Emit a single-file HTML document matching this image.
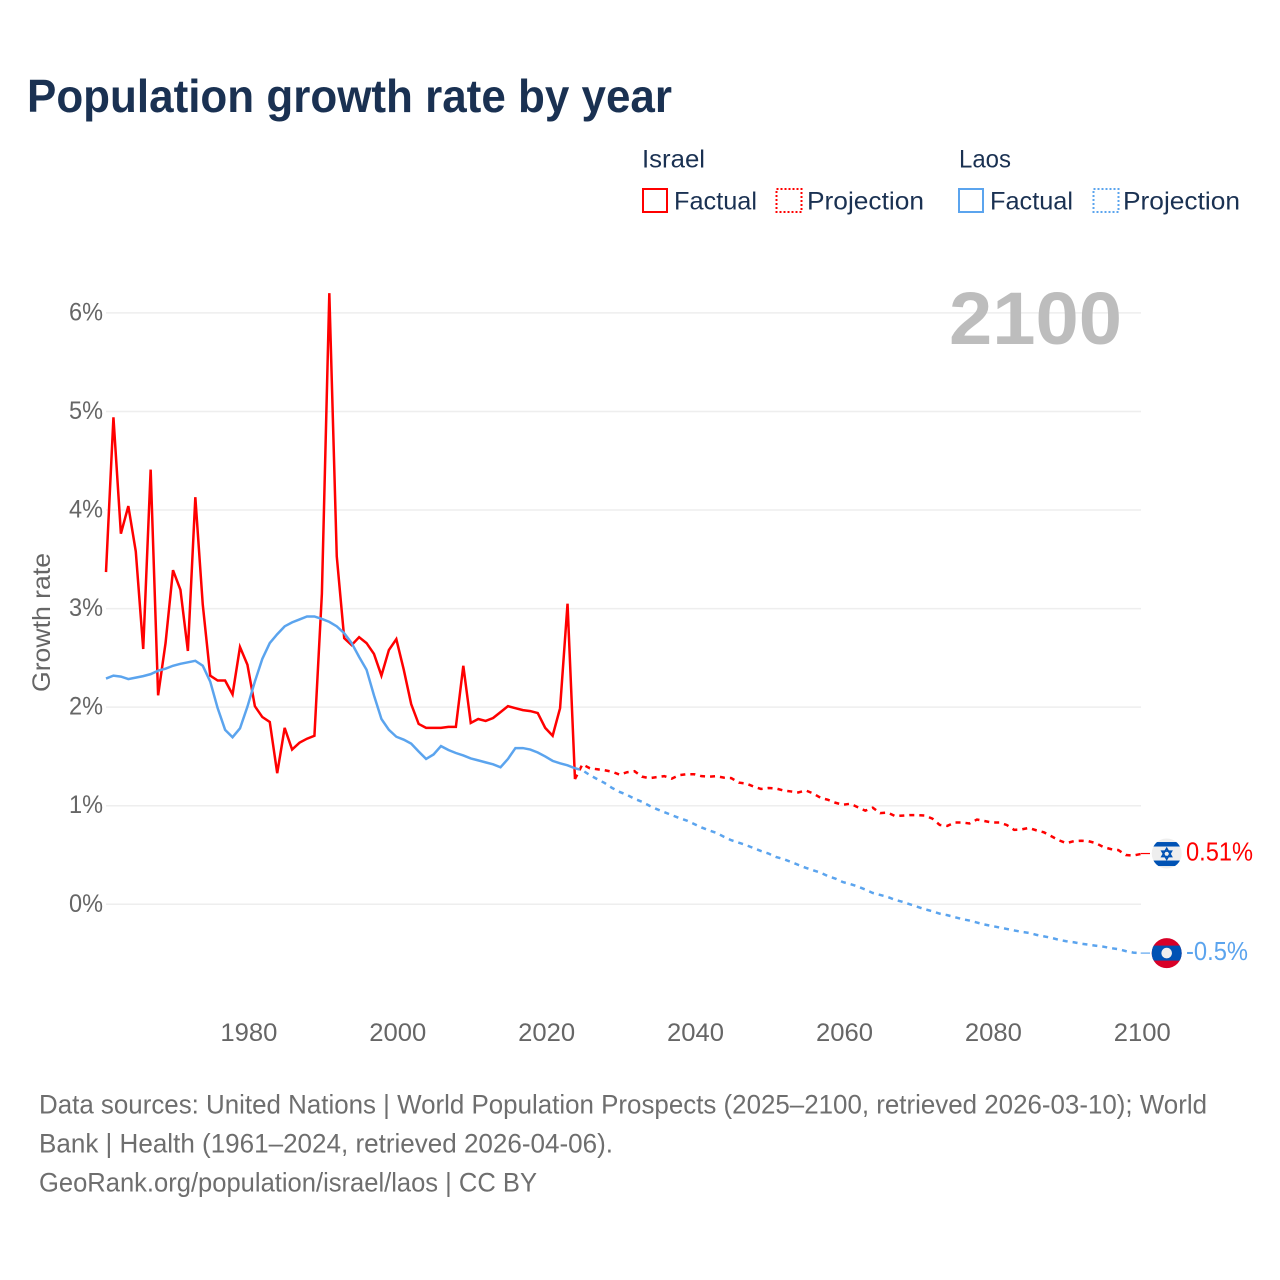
<!DOCTYPE html>
<html lang="en">
<head>
<meta charset="utf-8">
<title>Population growth rate by year</title>
<style>
html,body{margin:0;padding:0;background:#fff;width:1280px;height:1280px;overflow:hidden}
svg{display:block}
text{font-family:"Liberation Sans",sans-serif}
</style>
</head>
<body>
<svg id="chart" xmlns="http://www.w3.org/2000/svg" width="1280" height="1280" viewBox="0 0 1280 1280">
  <rect x="0" y="0" width="1280" height="1280" fill="#fff"/>
  <text x="27" y="112" font-size="46" font-weight="700" fill="#1a3152" textLength="645" lengthAdjust="spacingAndGlyphs">Population growth rate by year</text>

  <g font-size="25" fill="#1a3152">
    <text x="642" y="167.5" textLength="63" lengthAdjust="spacingAndGlyphs">Israel</text>
    <text x="959" y="167.5" textLength="52" lengthAdjust="spacingAndGlyphs">Laos</text>
    <g>
      <rect x="643" y="189" width="24" height="23" fill="none" stroke="#ff0000" stroke-width="2"/>
      <text x="674" y="209.5" textLength="83" lengthAdjust="spacingAndGlyphs">Factual</text>
    </g>
    <g>
      <rect x="776.5" y="189" width="25" height="23" fill="none" stroke="#ff0000" stroke-width="2" stroke-dasharray="2 2"/>
      <text x="807" y="209.5" textLength="117" lengthAdjust="spacingAndGlyphs">Projection</text>
    </g>
    <g>
      <rect x="959" y="189" width="24" height="23" fill="none" stroke="#5ba4ee" stroke-width="2"/>
      <text x="990" y="209.5" textLength="83" lengthAdjust="spacingAndGlyphs">Factual</text>
    </g>
    <g>
      <rect x="1093.5" y="189" width="25" height="23" fill="none" stroke="#5ba4ee" stroke-width="2" stroke-dasharray="2 2"/>
      <text x="1123" y="209.5" textLength="117" lengthAdjust="spacingAndGlyphs">Projection</text>
    </g>
  </g>

  <g id="grid"></g>
  <text x="949" y="344" font-size="74" font-weight="700" fill="#bdbdbd" textLength="173" lengthAdjust="spacingAndGlyphs">2100</text>
  <g id="yticks" font-size="25" fill="#666"></g>
  <g id="xticks" font-size="25" fill="#666"></g>
  <text transform="translate(50 692) rotate(-90)" x="0" y="0" font-size="25" fill="#666" textLength="139" lengthAdjust="spacingAndGlyphs">Growth rate</text>
  <g id="series"></g>

  <g id="flag-israel"></g>
  <g id="flag-laos"></g>

  <g font-size="26.5" fill="#6e6e6e">
    <text x="39" y="1113.5" textLength="1168" lengthAdjust="spacingAndGlyphs">Data sources: United Nations | World Population Prospects (2025–2100, retrieved 2026-03-10); World</text>
    <text x="39" y="1152.5" textLength="574" lengthAdjust="spacingAndGlyphs">Bank | Health (1961–2024, retrieved 2026-04-06).</text>
    <text x="39" y="1191.5" textLength="498" lengthAdjust="spacingAndGlyphs">GeoRank.org/population/israel/laos | CC BY</text>
  </g>
</svg>

<script>
const yTickValues = [0, 1, 2, 3, 4, 5, 6];
const yTickLabels = ["0%", "1%", "2%", "3%", "4%", "5%", "6%"];
const xTickValues = [1980, 2000, 2020, 2040, 2060, 2080, 2100];
const xTickLabels = ["1980", "2000", "2020", "2040", "2060", "2080", "2100"];
const factualStartYear = 1961;
const projectionStartYear = 2024;
const israelEndLabel = "0.51%";
const laosEndLabel = "-0.5%";

const israelFactual = [3.37,4.94,3.76,4.04,3.58,2.59,4.41,2.12,2.65,3.39,3.19,2.57,4.13,3.04,2.32,2.27,2.27,2.13,2.61,2.43,2.01,1.90,1.85,1.33,1.79,1.57,1.64,1.68,1.71,3.15,6.20,3.53,2.70,2.63,2.71,2.65,2.54,2.32,2.58,2.69,2.38,2.03,1.83,1.79,1.79,1.79,1.80,1.80,2.42,1.84,1.88,1.86,1.89,1.95,2.01,1.99,1.97,1.96,1.94,1.79,1.71,1.99,3.05,1.27];
const israelProjection = [1.27,1.42,1.38,1.37,1.36,1.345,1.315,1.34,1.35,1.295,1.28,1.29,1.30,1.275,1.31,1.32,1.32,1.30,1.295,1.30,1.285,1.28,1.235,1.225,1.195,1.17,1.18,1.175,1.155,1.145,1.135,1.155,1.125,1.08,1.06,1.03,1.01,1.02,0.985,0.95,0.98,0.925,0.93,0.895,0.90,0.905,0.905,0.90,0.87,0.805,0.795,0.83,0.83,0.82,0.86,0.845,0.83,0.83,0.805,0.755,0.76,0.775,0.75,0.73,0.69,0.65,0.62,0.64,0.645,0.64,0.62,0.58,0.56,0.55,0.50,0.495,0.51];
const laosFactual = [2.29,2.32,2.31,2.285,2.30,2.315,2.335,2.37,2.39,2.42,2.44,2.455,2.47,2.42,2.26,1.99,1.77,1.695,1.785,2.005,2.26,2.49,2.65,2.74,2.82,2.86,2.89,2.92,2.92,2.895,2.865,2.82,2.75,2.65,2.51,2.38,2.12,1.88,1.77,1.70,1.67,1.63,1.55,1.475,1.52,1.605,1.565,1.535,1.51,1.48,1.46,1.44,1.42,1.39,1.475,1.585,1.585,1.57,1.54,1.50,1.455,1.43,1.41,1.38];
const laosProjection = [1.38,1.36,1.31,1.27,1.23,1.18,1.14,1.11,1.07,1.04,1.00,0.965,0.935,0.905,0.875,0.85,0.815,0.78,0.75,0.725,0.685,0.65,0.625,0.60,0.57,0.54,0.515,0.48,0.46,0.43,0.40,0.37,0.345,0.32,0.285,0.26,0.225,0.205,0.18,0.15,0.115,0.095,0.075,0.045,0.025,0,-0.025,-0.05,-0.07,-0.095,-0.11,-0.13,-0.15,-0.165,-0.185,-0.205,-0.22,-0.235,-0.25,-0.265,-0.28,-0.29,-0.31,-0.325,-0.34,-0.36,-0.375,-0.385,-0.40,-0.41,-0.42,-0.43,-0.445,-0.455,-0.475,-0.49,-0.495];

const NS = "http://www.w3.org/2000/svg";
const RED = "#ff0000";
const BLUE = "#5ba4ee";
const xScale = function (year) { return 106 + (year - 1961) * 7.444; };
const yScale = function (value) { return 904.3 - value * 98.57; };

function make(tag, parent, attrs) {
  const el = document.createElementNS(NS, tag);
  Object.keys(attrs).forEach(function (k) { el.setAttribute(k, attrs[k]); });
  parent.appendChild(el);
  return el;
}
function linePath(values, startYear) {
  return values.map(function (v, i) {
    return (i ? "L" : "M") + xScale(startYear + i).toFixed(2) + " " + yScale(v).toFixed(2);
  }).join("");
}

const grid = document.getElementById("grid");
const yticks = document.getElementById("yticks");
const xticks = document.getElementById("xticks");
const series = document.getElementById("series");

yTickValues.forEach(function (v, i) {
  const g = make("line", grid, { x1: 106, x2: 1141, y1: yScale(v), y2: yScale(v), stroke: "#eeeeee", "stroke-width": 1.5 });
  
  
  const t = make("text", yticks, { x: 103, y: yScale(v) + 7.5, "text-anchor": "end", textLength: 34, lengthAdjust: "spacingAndGlyphs" });
  
  
  t.textContent = yTickLabels[i];
});

xTickValues.forEach(function (v, i) {
  const t = make("text", xticks, { x: xScale(v) + 1.5, y: 1041, "text-anchor": "middle", textLength: 57, lengthAdjust: "spacingAndGlyphs" });
  
  
  t.textContent = xTickLabels[i];
});

const redFact = make("path", series, { d: linePath(israelFactual, factualStartYear), fill: "none", stroke: RED, "stroke-width": 2.5 });



const redProj = make("path", series, { d: linePath(israelProjection, projectionStartYear), fill: "none", stroke: RED, "stroke-width": 2.5, "stroke-dasharray": "5 5" });



const blueFact = make("path", series, { d: linePath(laosFactual, factualStartYear), fill: "none", stroke: BLUE, "stroke-width": 2.5 });



const blueProj = make("path", series, { d: linePath(laosProjection, projectionStartYear), fill: "none", stroke: BLUE, "stroke-width": 2.5, "stroke-dasharray": "5 5" });



const israelLast = israelProjection[israelProjection.length - 1];
const laosLast = laosProjection[laosProjection.length - 1];
const lastYear = projectionStartYear + israelProjection.length - 1;
const flagX = 1166.7;

// Israel end marker
const fi = document.getElementById("flag-israel");
const iy = yScale(israelLast) - 0.5;
const iLead = make("line", fi, { x1: xScale(lastYear), x2: 1150, y1: iy, y2: iy, stroke: RED, "stroke-width": 1.2 });


const iCirc = make("circle", fi, { cx: flagX, cy: iy, r: 15, fill: "#eeeeee" });


const iClip = make("clipPath", fi, { id: "clip-israel" });
make("circle", iClip, { cx: flagX, cy: iy, r: 15 });
const iTop = make("rect", fi, { x: flagX - 15, y: iy - 11.5, width: 30, height: 4.5, fill: "#0052b4", "clip-path": "url(#clip-israel)" });


const iBot = make("rect", fi, { x: flagX - 15, y: iy + 7, width: 30, height: 5.5, fill: "#0052b4", "clip-path": "url(#clip-israel)" });


const iStarA = make("polygon", fi, { points: [[0,-5.5],[4.8,2.7],[-4.8,2.7]].map(function (p) { return (flagX + p[0]) + "," + (iy + 0.3 + p[1]); }).join(" "), fill: "none", stroke: "#0052b4", "stroke-width": 1.6 });


const iStarB = make("polygon", fi, { points: [[0,5.5],[4.8,-2.7],[-4.8,-2.7]].map(function (p) { return (flagX + p[0]) + "," + (iy + 0.3 + p[1]); }).join(" "), fill: "none", stroke: "#0052b4", "stroke-width": 1.6 });


const iLabel = make("text", fi, { x: 1186, y: iy + 7, "font-size": 25.5, fill: RED, textLength: 67, lengthAdjust: "spacingAndGlyphs" });


iLabel.textContent = israelEndLabel;

// Laos end marker
const fl = document.getElementById("flag-laos");
const ly = yScale(laosLast);
const lLead = make("line", fl, { x1: xScale(lastYear), x2: 1150, y1: ly, y2: ly, stroke: BLUE, "stroke-width": 1.2 });


const lCirc = make("circle", fl, { cx: flagX, cy: ly, r: 15, fill: "#d80027" });


const lClip = make("clipPath", fl, { id: "clip-laos" });
make("circle", lClip, { cx: flagX, cy: ly, r: 15 });
const lBand = make("rect", fl, { x: flagX - 16, y: ly - 7.5, width: 32, height: 15, fill: "#0052b4", "clip-path": "url(#clip-laos)" });


const lDot = make("circle", fl, { cx: flagX, cy: ly, r: 5.3, fill: "#eeeeee" });


const lLabel = make("text", fl, { x: 1186, y: ly + 7, "font-size": 25.5, fill: BLUE, textLength: 62, lengthAdjust: "spacingAndGlyphs" });


lLabel.textContent = laosEndLabel;
</script>
</body>
</html>
